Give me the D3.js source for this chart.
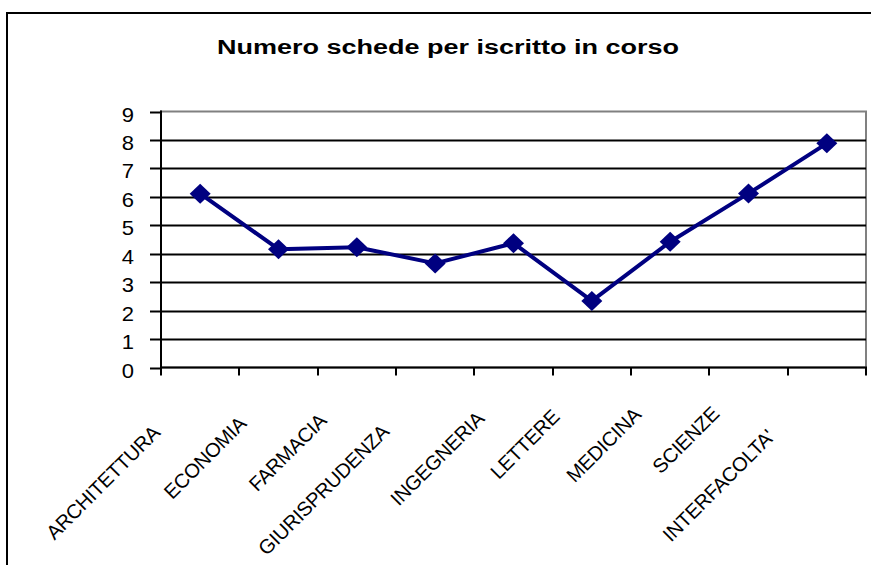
<!DOCTYPE html>
<html>
<head>
<meta charset="utf-8">
<script src="https://cdn.jsdelivr.net/npm/d3@7"></script>
<style>
  html, body { margin: 0; padding: 0; background: #fff; }
  svg { display: block; }
  text { font-family: "Liberation Sans", Arial, sans-serif; fill: #000; }
</style>
</head>
<body>
<svg id="chart" width="871" height="565"></svg>
<script>
// ---- data ----
const title = "Numero schede per iscritto in corso";
const categories = ["ARCHITETTURA", "ECONOMIA", "FARMACIA", "GIURISPRUDENZA", "INGEGNERIA", "LETTERE", "MEDICINA", "SCIENZE", "INTERFACOLTA'"];
const values = [6.11, 4.16, 4.23, 3.66, 4.37, 2.34, 4.42, 6.12, 7.88];
const yTicks = [0, 1, 2, 3, 4, 5, 6, 7, 8, 9];
// layout nudges for the rotated category labels (Excel staggering)
const labelShift = [[-11, 19], [-3, 10], [-1, 7], [-17, 18], [0, 5], [-3, 3], [0, 1], [0, 0], [-23, 23]];

// ---- layout ----
const svg = d3.select("#chart");
const pLeft = 161, pRight = 866, pTop = 111.5, pBottom = 367.5;

const x = d3.scaleBand().domain(categories).range([pLeft, pRight]).padding(0);
const y = d3.scaleLinear().domain([0, 9]).range([pBottom, pTop]);

// outer frame
svg.append("rect")
  .attr("x", 7).attr("y", 13).attr("width", 900).attr("height", 600)
  .attr("fill", "#fff").attr("stroke", "#000").attr("stroke-width", 2);

// title
svg.append("text")
  .attr("x", 448).attr("y", 54)
  .attr("text-anchor", "middle")
  .attr("font-size", 20).attr("font-weight", "bold")
  .attr("textLength", 462).attr("lengthAdjust", "spacingAndGlyphs")
  .text(title);

// plot border (gray)
svg.append("rect")
  .attr("x", pLeft).attr("y", pTop)
  .attr("width", pRight - pLeft).attr("height", pBottom - pTop)
  .attr("fill", "none").attr("stroke", "#808080").attr("stroke-width", 2);

// gridlines
svg.append("g").selectAll("line")
  .data(yTicks.filter(d => d > 0 && d < 9))
  .join("line")
  .attr("x1", pLeft).attr("x2", pRight)
  .attr("y1", d => Math.round(y(d)) + 0.5).attr("y2", d => Math.round(y(d)) + 0.5)
  .attr("stroke", "#000").attr("stroke-width", 1.8);

// y axis line + ticks
svg.append("line")
  .attr("x1", pLeft).attr("x2", pLeft).attr("y1", pTop - 1).attr("y2", pBottom + 1)
  .attr("stroke", "#000").attr("stroke-width", 2);
svg.append("g").selectAll("line")
  .data(yTicks)
  .join("line")
  .attr("x1", pLeft - 11).attr("x2", pLeft)
  .attr("y1", d => Math.round(y(d)) + 0.5).attr("y2", d => Math.round(y(d)) + 0.5)
  .attr("stroke", "#000").attr("stroke-width", 2);
svg.append("g").selectAll("text")
  .data(yTicks)
  .join("text")
  .attr("text-anchor", "end")
  .attr("font-size", 20)
  .attr("transform", d => `translate(134,${y(d) + 10}) scale(1.1,1)`)
  .text(d => d);

// x axis line + ticks at band boundaries
svg.append("line")
  .attr("x1", pLeft - 1).attr("x2", pRight + 1).attr("y1", pBottom).attr("y2", pBottom)
  .attr("stroke", "#000").attr("stroke-width", 2);
const boundaries = categories.map(c => x(c)).concat([x.range()[1]]);
svg.append("g").selectAll("line")
  .data(boundaries)
  .join("line")
  .attr("x1", d => Math.round(d)).attr("x2", d => Math.round(d))
  .attr("y1", pBottom).attr("y2", pBottom + 8)
  .attr("stroke", "#000").attr("stroke-width", 2);

// category labels, rotated
svg.append("g").selectAll("text")
  .data(categories)
  .join("text")
  .attr("text-anchor", "end")
  .attr("font-size", 20)
  .attr("letter-spacing", -0.3)
  .attr("transform", (d, i) => {
    const px = x(d) + x.bandwidth() / 2 - 28 + labelShift[i][0];
    const py = 415 + labelShift[i][1];
    return `translate(${px},${py}) rotate(-45)`;
  })
  .text(d => d);

// series line
const line = d3.line()
  .x((d, i) => x(categories[i]) + x.bandwidth() / 2)
  .y(d => y(d));
svg.append("path")
  .datum(values)
  .attr("d", line)
  .attr("fill", "none")
  .attr("stroke", "#000080")
  .attr("stroke-width", 4)
  .attr("stroke-linejoin", "round");

// diamond markers
const hw = 10.5, hh = 10;
svg.append("g").selectAll("path")
  .data(values)
  .join("path")
  .attr("d", (d, i) => {
    const cx = x(categories[i]) + x.bandwidth() / 2, cy = y(d);
    return `M${cx},${cy - hh}L${cx + hw},${cy}L${cx},${cy + hh}L${cx - hw},${cy}Z`;
  })
  .attr("fill", "#000080");
</script>
</body>
</html>
